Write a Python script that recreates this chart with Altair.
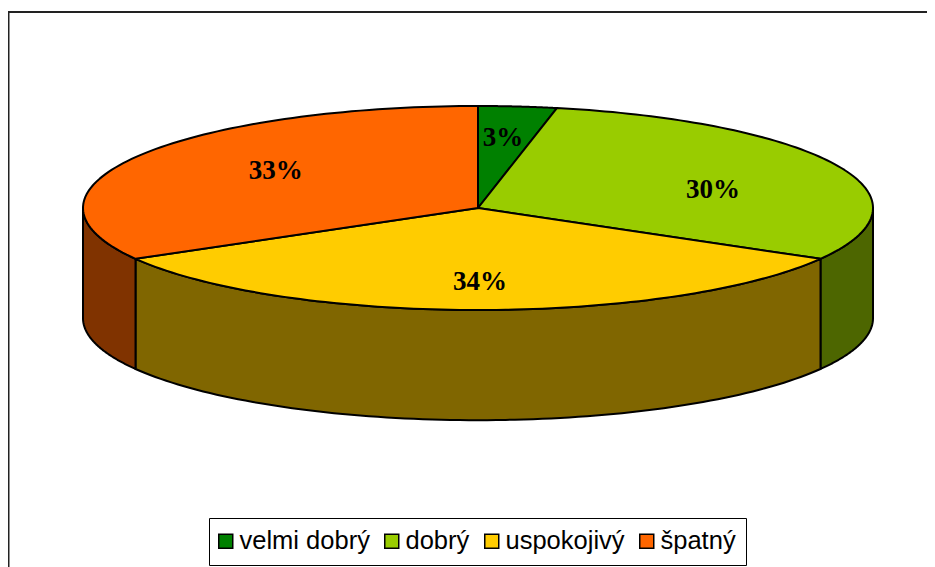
import math
import altair as alt
import pandas as pd

# values
categories = ["velmi dobrý", "dobrý", "uspokojivý", "špatný"]
shares = [3.2, 30.1, 33.4, 33.3]
labels = ["3%", "30%", "34%", "33%"]
top_colors = ["#008000", "#99CC00", "#FFCC00", "#FF6600"]
side_colors = ["#004000", "#4D6600", "#806600", "#803300"]

# layout of the pie in page pixels, used only to set the scale domains
W, H = 919, 559
CX, CY, RX, RY = 470, 200, 395, 102
DEPTH = 1.08  # in units of the y radius
label_pos = {"3%": (0.063, 0.69), "30%": (0.595, 0.18), "34%": (0.005, -0.725), "33%": (-0.512, 0.36)}

x_domain = [(0 - CX) / RX, (W - CX) / RX]
y_domain = [(CY - H) / RY, CY / RY]


def arc(a0, a1, drop=0.0, n=90):
    pts = []
    for i in range(n + 1):
        a = math.radians(a0 + (a1 - a0) * i / n)
        pts.append((math.sin(a), math.cos(a) - drop))
    return pts


tops, sides, start = [], [], 0.0
for name, share, tc, sc in zip(categories, shares, top_colors, side_colors):
    end = start + share * 3.6
    poly = [(0.0, 0.0)] + arc(start, end) + [(0.0, 0.0)]
    tops += [{"slice": name, "i": i, "u": u, "v": v, "c": tc} for i, (u, v) in enumerate(poly)]
    lo, hi = max(start, 90.0), min(end, 270.0)
    if hi > lo:
        face = arc(lo, hi) + arc(hi, lo, DEPTH)
        face.append(face[0])
        sides += [{"slice": name, "i": i, "u": u, "v": v, "c": sc} for i, (u, v) in enumerate(face)]
    start = end

x = alt.X("u:Q", scale=alt.Scale(domain=x_domain, nice=False, zero=False), axis=None)
y = alt.Y("v:Q", scale=alt.Scale(domain=y_domain, nice=False, zero=False), axis=None)


def faces(rows):
    return alt.Chart(pd.DataFrame(rows)).mark_line(
        stroke="black", strokeWidth=2, strokeJoin="round", interpolate="linear"
    ).encode(
        x=x, y=y, detail="slice:N", order="i:Q",
        fill=alt.Fill("c:N", scale=None),
    )


legend_rows = [{"slice": c, "u": 0.0, "v": 0.0, "k": i} for i, c in enumerate(categories)]
keys = alt.Chart(pd.DataFrame(legend_rows)).mark_square(size=1).encode(
    x=x, y=y,
    color=alt.Color(
        "slice:N",
        scale=alt.Scale(domain=categories, range=top_colors),
        legend=alt.Legend(
            title=None, orient="none", legendX=201, legendY=510, direction="horizontal", columns=4,
            symbolType="square", symbolSize=196, symbolStrokeColor="black", symbolStrokeWidth=1.5,
            symbolOpacity=1, symbolOffset=-6, labelFont="Liberation Sans", labelFontSize=25.5, labelColor="black",
            labelLimit=200, labelOffset=1, columnPadding=11, padding=10,
            fillColor="white", strokeColor="black",
        ),
    ),
)

text_rows = [{"t": t, "u": label_pos[t][0], "v": label_pos[t][1]} for t in labels]
texts = alt.Chart(pd.DataFrame(text_rows)).mark_text(
    font="Liberation Serif", fontWeight="bold", fontSize=27, color="black", align="center", baseline="middle"
).encode(x=x, y=y, text="t:N")

frame_top = alt.Chart(pd.DataFrame({"a": [0]})).mark_rule(color="#222222", strokeWidth=2).encode(
    x=alt.value(0), x2=alt.value(W), y=alt.value(4)
)
frame_left = alt.Chart(pd.DataFrame({"a": [0]})).mark_rule(color="#222222", strokeWidth=2).encode(
    x=alt.value(0.5), y=alt.value(3), y2=alt.value(H)
)

chart = alt.layer(frame_top, frame_left, keys, faces(sides), faces(tops), texts).properties(
    width=W, height=H, padding=0, background="white",
    autosize=alt.AutoSizeParams(type="none"),
).configure_view(stroke=None)

chart.save("out.html", embed_options={"renderer": "svg", "actions": False})
